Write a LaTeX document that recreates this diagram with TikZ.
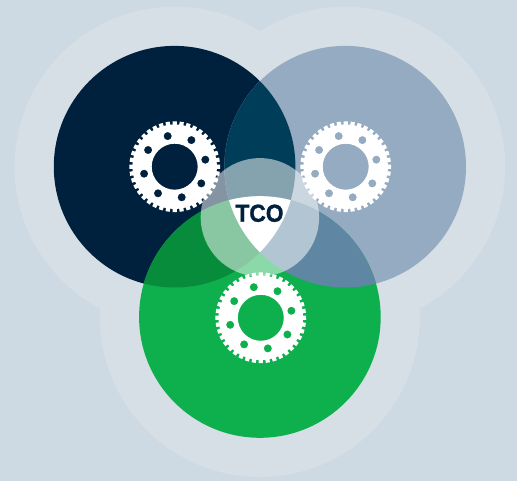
\documentclass[tikz,border=0pt]{standalone}
\usepackage{fontspec}
\setmainfont{Liberation Sans}
\newfontfamily\tcofont[BoldFeatures={FakeBold=1.2}]{Liberation Sans}
\definecolor{bgc}{HTML}{CDDAE3}
\definecolor{haloc}{HTML}{D7DFE6}
\definecolor{navy}{HTML}{00213D}
\definecolor{lite}{HTML}{95ABC1}
\definecolor{teal}{HTML}{003D59}
\definecolor{grn}{HTML}{0EAF4D}
\definecolor{navygrn}{HTML}{078C3C}
\definecolor{litegrn}{HTML}{5F86A3}
\newcommand{\cL}{(174.6,166.7) circle[radius=120.8pt]}
\newcommand{\cR}{(345.2,166.7) circle[radius=120.8pt]}
\newcommand{\cG}{(259.9,317) circle[radius=120.8pt]}
\newcommand{\gearat}[2]{%
  \begin{scope}[shift={(#1,#2)}]
    \fill[white,even odd rule]
      (-2.6:45.4pt)
      \foreach \t in {0,...,39}{%
        \pgfextra{\pgfmathsetmacro{\a}{9*\t}}
        -- ({\a-2.6}:45.4pt) -- ({\a+2.6}:45.4pt) -- ({\a+2.9}:42.2pt) -- ({\a+6.1}:42.2pt)
      } -- cycle
      (0,0) circle[radius=23pt]
      \foreach \h in {12.9,57.9,102.9,147.9,192.9,237.9,282.9,327.9}{
        (\h:31.4pt) circle[radius=4.1pt]
      };
  \end{scope}}
\begin{document}
\begin{tikzpicture}[x=1pt,y=-1pt]
\useasboundingbox (0,0) rectangle (517,481);
\fill[bgc] (0,0) rectangle (517,481);
% halos
\fill[haloc] (174.6,166.7) circle[radius=160pt] (345.2,166.7) circle[radius=160pt] (259.9,317) circle[radius=160pt];
% main discs
\fill[navy] \cL;
\fill[lite] \cR;
\fill[grn] \cG;
% overlaps
\begin{scope}\clip \cL; \fill[teal] \cR; \end{scope}
\begin{scope}\clip \cL; \fill[navygrn] \cG; \end{scope}
\begin{scope}\clip \cR; \fill[litegrn] \cG; \end{scope}
% central translucent disc
\fill[white,opacity=.52] (259.9,217.3) circle[radius=59.2pt];
% triple overlap
\begin{scope}\clip \cL; \clip \cR; \fill[white] \cG; \end{scope}
% gears
\gearat{174.7}{166.7}
\gearat{345.7}{166.7}
\gearat{260.8}{317.8}
\node[text=navy,xscale=.93,font=\tcofont\fontsize{24.5}{25}\bfseries\selectfont,inner sep=0pt] (tco) at (259.5,213.3) {TCO};
\end{tikzpicture}
\end{document}
